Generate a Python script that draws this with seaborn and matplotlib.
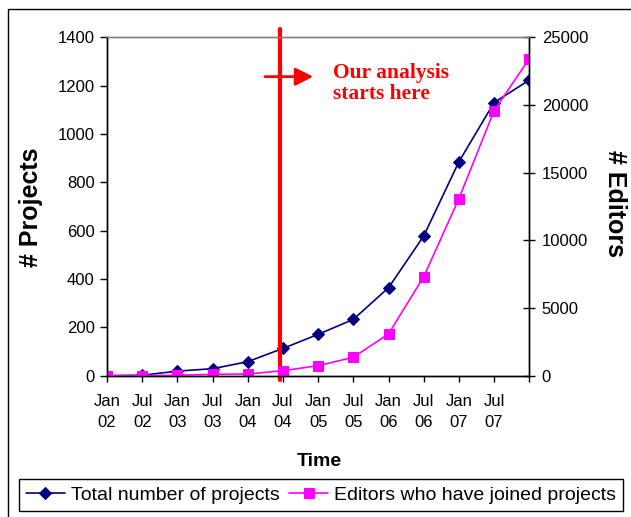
import numpy as np
import seaborn as sns
import matplotlib.pyplot as plt
from matplotlib.patches import Rectangle

# half-yearly snapshots, last point is unlabelled (Jan 08)
periods = ["Jan\n02", "Jul\n02", "Jan\n03", "Jul\n03", "Jan\n04", "Jul\n04",
           "Jan\n05", "Jul\n05", "Jan\n06", "Jul\n06", "Jan\n07", "Jul\n07", ""]
projects = [0, 2, 19, 29, 58, 113, 171, 233, 364, 578, 885, 1130, 1223]
editors = [0, 10, 30, 100, 125, 370, 740, 1360, 3090, 7310, 13080, 19580, 23420]

analysis_start = 4.92  # just before Jul 04

sns.set_style("white")
plt.rcParams["font.family"] = ["Liberation Sans", "DejaVu Sans"]
plt.rcParams.update({"text.color": "black", "axes.labelcolor": "black",
                     "xtick.color": "black", "ytick.color": "black"})

fig = plt.figure(figsize=(6.31, 5.17), dpi=100)
ax = fig.add_axes([0.1696, 0.2733, 0.6692, 0.6546])
ax2 = ax.twinx()

x = np.arange(len(periods))
sns.lineplot(x=x, y=projects, ax=ax, color="#000080", marker="D", markersize=6,
             markeredgecolor="#000080", linewidth=1.2,
             label="Total number of projects", legend=False)
sns.lineplot(x=x, y=editors, ax=ax2, color="#FF00FF", marker="s", markersize=6.5,
             markeredgecolor="#FF00FF", linewidth=1.2,
             label="Editors who have joined projects", legend=False)
handles = ax.get_lines() + ax2.get_lines()

ax.set_xlim(0, 12)
ax.set_ylim(0, 1400)
ax2.set_ylim(0, 25000)
ax.set_xticks(x)
ax.set_xticklabels(periods)
ax.set_yticks(range(0, 1401, 200))
ax2.set_yticks(range(0, 25001, 5000))
ax.set_xlabel("")
ax.set_ylabel("")
ax2.set_ylabel("")

for a in (ax, ax2):
    for side in ("left", "right", "bottom"):
        a.spines[side].set_color("black")
        a.spines[side].set_linewidth(1.0)
    a.spines["top"].set_color("#808080")
    a.spines["top"].set_linewidth(1.0)

ax.tick_params(axis="y", left=True, direction="out", length=5, width=1,
               labelsize=12, pad=4)
ax.tick_params(axis="x", bottom=True, direction="out", length=4, width=1,
               labelsize=12, pad=9)
ax2.tick_params(axis="y", right=True, direction="inout", length=8, width=1,
                labelsize=12, pad=5)
for lbl in ax.get_xticklabels():
    lbl.set_linespacing(1.5)

# marker for start of analysis
ax2.plot([analysis_start, analysis_start], [-0.013, 1.024], color="red", lw=3,
         transform=ax2.get_xaxis_transform(), clip_on=False, zorder=1.5)
ax2.annotate("", xy=(5.86, 0.8836), xytext=(4.49, 0.8836),
             xycoords=ax2.get_xaxis_transform(), textcoords=ax2.get_xaxis_transform(),
             arrowprops=dict(arrowstyle="-|>", color="red", lw=2,
                             mutation_scale=27, shrinkA=0, shrinkB=0))
ax2.text(6.43, 0.924, "Our analysis\nstarts here", transform=ax2.get_xaxis_transform(),
         color="red", fontsize=15.5, fontweight="bold", ha="left", va="top",
         linespacing=1.1, family=["Liberation Serif", "DejaVu Serif"])

fig.text(31 / 631, 1 - 207 / 517, "# Projects", rotation=90, fontsize=18,
         fontweight="bold", ha="center", va="center")
fig.text(615 / 631, 1 - 204 / 517, "# Editors", rotation=-90, fontsize=18,
         fontweight="bold", ha="center", va="center")
fig.text(319 / 631, 1 - 461 / 517, "Time", fontsize=14, fontweight="bold",
         ha="center", va="center")

leg = fig.legend(handles, [h.get_label() for h in handles], loc="center",
                 bbox_to_anchor=(321 / 631, 1 - 495 / 517), ncol=2, fontsize=14,
                 frameon=True, fancybox=False, edgecolor="black", framealpha=1,
                 handlelength=2.0, handletextpad=0.3, columnspacing=0.5,
                 borderpad=0.35)
leg.get_frame().set_linewidth(1.0)

# outer frame of the original chart object
fig.patches.append(Rectangle((8 / 631, -0.05), 1.0, 1 - 9 / 517 + 0.05,
                             transform=fig.transFigure, fill=False,
                             edgecolor="black", lw=1))

fig.savefig("out.png", dpi=100)
